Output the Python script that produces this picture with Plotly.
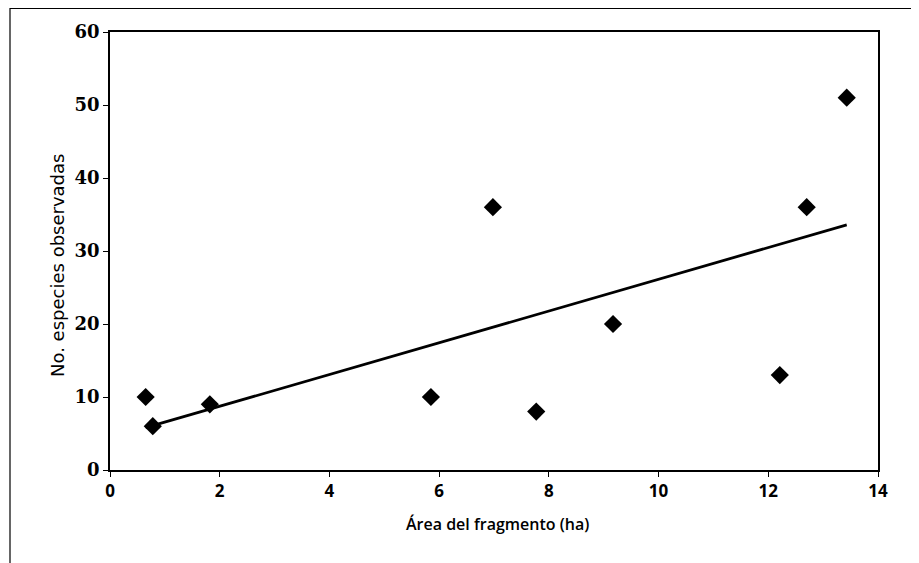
import numpy as np
import plotly.graph_objects as go

# Data
area_ha = [0.65, 0.78, 1.82, 5.85, 6.98, 7.77, 9.17, 12.21, 12.70, 13.43]
especies = [10, 6, 9, 10, 36, 8, 20, 13, 36, 51]
x_ticks = [0, 2, 4, 6, 8, 10, 12, 14]
y_ticks = [0, 10, 20, 30, 40, 50, 60]

# Linear trendline (least squares) over the data range
slope, intercept = np.polyfit(area_ha, especies, 1)
x_fit = [min(area_ha), max(area_ha)]
y_fit = [slope * v + intercept for v in x_fit]

fig = go.Figure()
fig.add_trace(go.Scatter(x=x_fit, y=y_fit, mode="lines",
                         line=dict(color="black", width=2.8),
                         showlegend=False, hoverinfo="skip"))
fig.add_trace(go.Scatter(x=area_ha, y=especies, mode="markers",
                         marker=dict(symbol="diamond", size=14, color="black"),
                         showlegend=False))

# figure sits at an 8px page offset (body margin)
L, R, T, B = 102, 49, 24, 101
PW, PH = 919 - L - R, 563 - T - B

fig.update_layout(
    width=919, height=563,
    margin=dict(l=L, r=R, t=T, b=B),
    paper_bgcolor="white", plot_bgcolor="white",
    xaxis=dict(range=[0, 14], tickvals=x_ticks,
               ticktext=[f"<b>{v}</b>" for v in x_ticks],
               showgrid=False, zeroline=False,
               showline=True, linecolor="black", linewidth=1.5, mirror=True,
               ticks="outside", ticklen=5, tickcolor="black", tickwidth=1,
               tickfont=dict(family="Open Sans", size=17, color="black")),
    yaxis=dict(range=[0, 60], tickvals=y_ticks,
               ticktext=[f"<b>{v}</b>" for v in y_ticks],
               showgrid=False, zeroline=False,
               showline=True, linecolor="black", linewidth=1.5, mirror=True,
               ticks="outside", ticklen=5, tickcolor="black", tickwidth=1,
               tickfont=dict(family="DejaVu Serif", size=18, color="black")),
    annotations=[
        dict(text="No. especies observadas", xref="paper", yref="paper",
             x=(49 - L) / PW, y=(PH + T - 258) / PH, textangle=-90,
             showarrow=False, xanchor="center", yanchor="middle",
             font=dict(family="DejaVu Sans", size=18, color="black")),
        dict(text="Área del fragmento (ha)", xref="paper", yref="paper",
             x=(489 - L) / PW, y=(PH + T - 516) / PH,
             showarrow=False, xanchor="center", yanchor="middle",
             font=dict(family="Open Sans", size=16, color="black", weight=600)),
    ],
    shapes=[dict(type="rect", xref="paper", yref="paper",
                 x0=(2 - L) / PW, x1=(908 - L) / PW,
                 y0=(PH + T - 600) / PH, y1=(PH + T - 0.5) / PH,
                 line=dict(color="black", width=1.2), layer="below")],
)

fig.write_html("out.html")
